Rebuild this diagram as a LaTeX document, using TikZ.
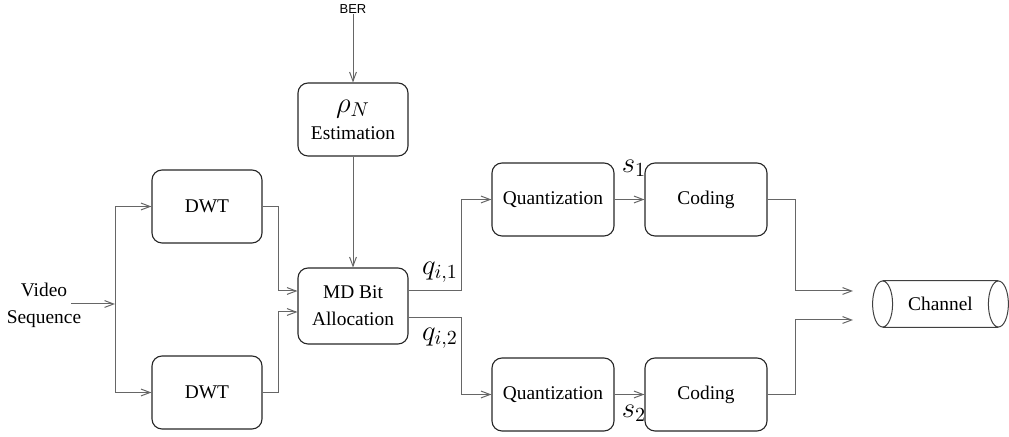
\documentclass[tikz,border=0pt]{standalone}
\usepackage{fontspec}
\setmainfont{Liberation Serif}
\newfontfamily\berfont{Liberation Sans}
\usetikzlibrary{arrows.meta}

\begin{document}
\begin{tikzpicture}[
    x=0.5pt, y=-0.5pt,
    font=\fontsize{9.7}{13.5}\selectfont,
    block/.style={
        draw=black!85,
        line width=0.55pt,
        rounded corners=5pt,
        minimum width=55pt,
        minimum height=36.5pt,
        inner sep=0pt,
        align=center
    },
    wideblock/.style={block, minimum width=61pt},
    link/.style={
        draw=black!60,
        line width=0.5pt,
        -{Straight Barb[length=4.5pt,width=3.4pt]}
    },
    lbl/.style={font=\Large, inner sep=0pt}
]
\useasboundingbox (0,0) rectangle (1009,437);

% Input and transforms
\node[align=center, inner sep=0pt] (video) at (44,305) {Video\\Sequence};
\coordinate (vin) at (71,304);
\coordinate (fork) at (115,304);
\node[block] (dwt1) at (207,206.5) {DWT};
\node[block] (dwt2) at (207,392.5) {DWT};

% Rate estimation and allocation
\node[font=\berfont\fontsize{6.5}{7}\selectfont, inner sep=0pt] (ber) at (353,9) {BER};
\node[block] (est) at (353,119.5) {\Large$\rho_N$\\Estimation};
\node[block, minimum height=38pt] (md) at (353,306) {MD Bit\\Allocation};

% Two descriptions
\foreach \k/\yy in {1/199.5, 2/394.5}{
    \node[wideblock] (quant\k) at (553,\yy) {Quantization};
    \node[wideblock] (code\k) at (706,\yy) {Coding};
}
\node[lbl] (q1) at (440,272) {$q_{i,1}$};
\node[lbl] (q2) at (440,338) {$q_{i,2}$};
\node[lbl] (s1) at (634,168) {$s_1$};
\node[lbl] (s2) at (634,413) {$s_2$};

% Channel
\node[minimum width=57.5pt, minimum height=23pt, inner sep=0pt] (chan) at (940.5,304) {Channel};
\draw[black!75, line width=0.5pt]
    (chan.north west) -- (chan.north east)
    (chan.south west) -- (chan.south east)
    (chan.west) ellipse[x radius=5pt, y radius=11.5pt]
    (chan.east) ellipse[x radius=5pt, y radius=11.5pt];
\coordinate (cin1) at (853,291);
\coordinate (cin2) at (853,320);

% Connectors
\draw[link] (vin) -- (fork);
\draw[link] (fork) |- (dwt1);
\draw[link] (fork) |- (dwt2);
\draw[link] (dwt1.east) -- ++(16,0) |- ([yshift=7.5pt]md.west);
\draw[link] (dwt2.east) -- ++(16,0) |- ([yshift=-3pt]md.west);
\draw[link] (ber) -- (est);
\draw[link] (est) -- (md);
\draw[link] ([yshift=7.5pt]md.east) -- ++(53,0) |- (quant1);
\draw[link] ([yshift=-6pt]md.east) -- ++(53,0) |- (quant2);
\draw[link] (quant1) -- (code1);
\draw[link] (quant2) -- (code2);
\draw[link] (code1.east) -- ++(28,0) |- (cin1);
\draw[link] (code2.east) -- ++(28,0) |- (cin2);
\end{tikzpicture}
\end{document}
